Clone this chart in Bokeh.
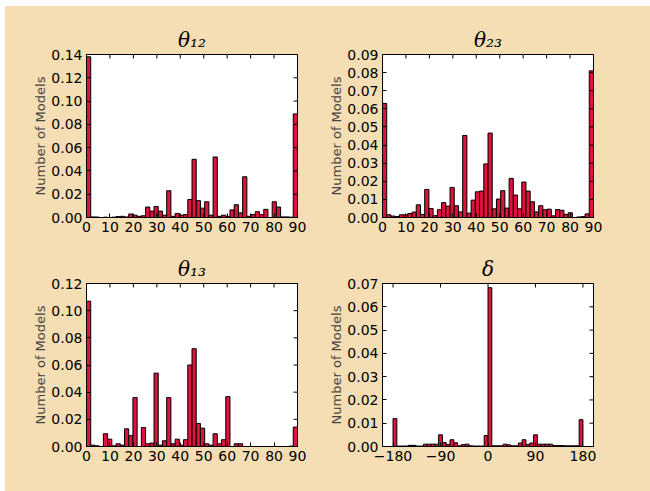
import numpy as np
from bokeh.plotting import figure
from bokeh.layouts import column, row
from bokeh.models import Range1d, FixedTicker, NumeralTickFormatter
from bokeh.embed import file_html
from bokeh.resources import INLINE

# ---- data (bin heights, 50 bins per panel) ----
theta12_vals = [0.138, 0.0005, 0.0004, 0.0, 0.0003, 0.0, 0.0003, 0.0008, 0.001, 0.0005,
                0.003, 0.002, 0.001, 0.0015, 0.009, 0.0055, 0.0095, 0.0055, 0.002, 0.023,
                0.001, 0.0035, 0.002, 0.0025, 0.0155, 0.050, 0.0145, 0.008, 0.0135, 0.002,
                0.052, 0.001, 0.002, 0.001, 0.0065, 0.011, 0.004, 0.035, 0.001, 0.0025,
                0.005, 0.0025, 0.007, 0.0, 0.0135, 0.009, 0.0005, 0.0005, 0.0003, 0.089]
theta23_vals = [0.063, 0.0015, 0.0008, 0.0005, 0.0015, 0.0015, 0.0022, 0.003, 0.007, 0.0017,
                0.0155, 0.005, 0.001, 0.0043, 0.0082, 0.0063, 0.0166, 0.0065, 0.0031, 0.0453,
                0.0024, 0.0096, 0.0142, 0.0146, 0.0296, 0.0466, 0.0048, 0.0102, 0.0148, 0.0052,
                0.0216, 0.0124, 0.0048, 0.0196, 0.0146, 0.0087, 0.0031, 0.0065, 0.0043, 0.0046,
                0.0009, 0.0044, 0.004, 0.0017, 0.0026, 0.0, 0.0003, 0.0005, 0.002, 0.081]
theta13_vals = [0.107, 0.001, 0.0005, 0.0, 0.0094, 0.0054, 0.0005, 0.002, 0.001, 0.013,
                0.008, 0.036, 0.0, 0.014, 0.002, 0.0025, 0.054, 0.001, 0.0042, 0.036,
                0.002, 0.0054, 0.001, 0.005, 0.060, 0.072, 0.017, 0.0135, 0.002, 0.001,
                0.0094, 0.002, 0.005, 0.0367, 0.0, 0.002, 0.002, 0.0, 0.0, 0.0,
                0.0, 0.0, 0.0, 0.0, 0.0, 0.0, 0.0, 0.0, 0.0003, 0.0143]
delta_vals = [0.012, 0.0002, 0.0002, 0.0002, 0.0005, 0.0005, 0.0002, 0.0002, 0.001, 0.001,
              0.001, 0.001, 0.005, 0.0017, 0.0008, 0.0029, 0.0016, 0.0003, 0.0008, 0.001,
              0.0003, 0.0002, 0.0002, 0.0002, 0.0047, 0.0682, 0.0003, 0.0003, 0.0003, 0.001,
              0.0007, 0.0003, 0.0003, 0.0015, 0.0029, 0.0008, 0.0015, 0.005, 0.001, 0.001,
              0.001, 0.001, 0.0004, 0.0004, 0.0004, 0.0003, 0.0003, 0.0003, 0.0003, 0.0115]

theta_edges = np.linspace(0, 90, 51)
delta_edges = np.linspace(-180, 180, 51)

theta_xticks = [0, 10, 20, 30, 40, 50, 60, 70, 80, 90]
theta_xlabels = ["0", "10", "20", "30", "40", "50", "60", "70", "80", "90"]
delta_xticks = [-180, -90, 0, 90, 180]
delta_xlabels = ["\u2212180", "\u221290", "0", "90", "180"]

yticks12 = [0.0, 0.02, 0.04, 0.06, 0.08, 0.10, 0.12, 0.14]
yticks23 = [0.0, 0.01, 0.02, 0.03, 0.04, 0.05, 0.06, 0.07, 0.08, 0.09]
yticks13 = [0.0, 0.02, 0.04, 0.06, 0.08, 0.10, 0.12]
yticksd = [0.0, 0.01, 0.02, 0.03, 0.04, 0.05, 0.06, 0.07]

BG = "#F5DEB3"
BAR = "#DC143C"


def style_axis(ax, ticks, labels=None):
    ax.ticker = FixedTicker(ticks=ticks)
    ax.minor_tick_line_color = None
    ax.major_tick_in = 4
    ax.major_tick_out = 0
    ax.major_tick_line_color = "black"
    ax.major_tick_line_width = 1
    if labels is not None:
        ax.major_label_overrides = {t: l for t, l in zip(ticks, labels)}
    ax.major_label_text_font = "DejaVu Sans"
    ax.major_label_text_font_size = "14px"
    ax.major_label_text_color = "black"
    ax.major_label_standoff = 4


def make_panel(title, edges, vals, xr, yr, xticks, xlabels, yticks, bl, br, bt, bb):
    p = figure(frame_width=211, frame_height=163,
               min_border_left=bl, min_border_right=br,
               min_border_top=bt, min_border_bottom=bb,
               x_range=Range1d(*xr), y_range=Range1d(*yr),
               output_backend="svg", toolbar_location=None, title=title,
               styles={"background-color": BG})
    p.quad(left=edges[:-1], right=edges[1:], top=vals, bottom=0,
           fill_color=BAR, line_color="black", line_width=1)
    # inward ticks on the top and right frame edges (half of each dash is clipped)
    p.scatter(x=xticks, y=[yr[1]] * len(xticks), marker="dash", angle=np.pi / 2,
              size=8, line_color="black", line_width=1)
    p.scatter(x=[xr[1]] * len(yticks), y=yticks, marker="dash",
              size=8, line_color="black", line_width=1)
    p.background_fill_color = "white"
    p.border_fill_color = BG
    p.outline_line_color = "black"
    p.outline_line_width = 1
    p.grid.visible = False
    p.title.text_font = "DejaVu Serif"
    p.title.text_font_style = "italic"
    p.title.text_font_size = "20px"
    p.title.align = "center"
    p.title.text_color = "black"
    p.title.standoff = 5

    style_axis(p.xaxis[0], xticks, xlabels)
    style_axis(p.yaxis[0], yticks)
    p.yaxis[0].formatter = NumeralTickFormatter(format="0.00")
    p.yaxis[0].axis_label = "Number of Models"
    p.yaxis[0].axis_label_text_font = "DejaVu Sans"
    p.yaxis[0].axis_label_text_font_size = "13px"
    p.yaxis[0].axis_label_text_font_style = "normal"
    p.yaxis[0].axis_label_standoff = 0
    return p


p1 = make_panel("\u03b8\u2081\u2082", theta_edges, theta12_vals, (0, 90), (0, 0.14),
                theta_xticks, theta_xlabels, yticks12, 81, 20, 48, 30)
p2 = make_panel("\u03b8\u2082\u2083", theta_edges, theta23_vals, (0, 90), (0, 0.09),
                theta_xticks, theta_xlabels, yticks23, 65, 57, 48, 30)
p3 = make_panel("\u03b8\u2081\u2083", theta_edges, theta13_vals, (0, 90), (0, 0.12),
                theta_xticks, theta_xlabels, yticks13, 81, 20, 36, 45)
p4 = make_panel("\u03b4", delta_edges, delta_vals, (-200, 200), (0, 0.07),
                delta_xticks, delta_xlabels, yticksd, 65, 57, 36, 45)

r1 = row(p1, p2, spacing=0, styles={"background-color": BG})
r2 = row(p3, p4, spacing=0, styles={"background-color": BG})
layout = column(r1, r2, spacing=0, margin=(6, 0, 0, 5),
                styles={"background-color": BG})

open("out.html", "w").write(file_html(layout, INLINE))
